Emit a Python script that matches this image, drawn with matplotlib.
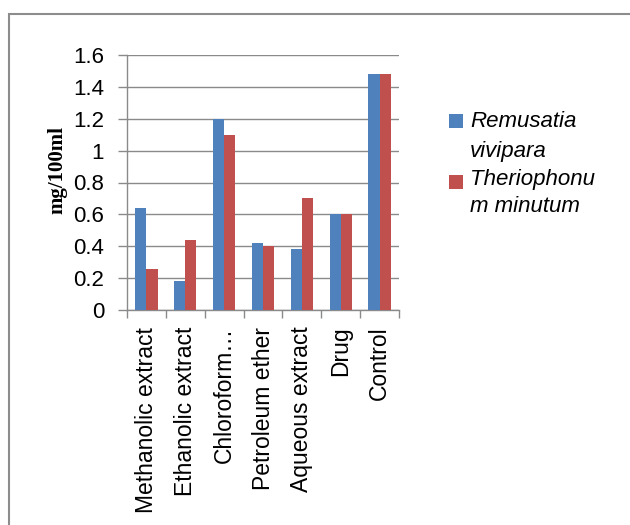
import matplotlib
matplotlib.use("Agg")
import matplotlib.pyplot as plt
import numpy as np
from matplotlib.patches import Rectangle

categories = ["Methanolic extract", "Ethanolic extract", "Chloroform\u2026",
              "Petroleum ether", "Aqueous extract", "Drug", "Control"]
remusatia = [0.64, 0.18, 1.20, 0.42, 0.38, 0.60, 1.48]
theriophonum = [0.26, 0.44, 1.10, 0.40, 0.70, 0.60, 1.48]
series_lines = [["Remusatia", "vivipara"], ["Theriophonu", "m minutum"]]
series_colors = ["#4F81BD", "#C0504D"]
yticks = [0, 0.2, 0.4, 0.6, 0.8, 1, 1.2, 1.4, 1.6]
ytick_labels = ["0", "0.2", "0.4", "0.6", "0.8", "1", "1.2", "1.4", "1.6"]

plt.rcParams["font.family"] = ["Liberation Sans", "DejaVu Sans"]

W, H = 630, 525
fig = plt.figure(figsize=(W / 100, H / 100), dpi=100)
fig.patch.set_facecolor("white")


def fx(px):
    return px / W


def fy(py):
    return 1 - py / H


# outer chart frame
fig.patches.append(Rectangle((fx(9), -0.1), 1.2, 0.1 + fy(14),
                             transform=fig.transFigure, fill=False,
                             edgecolor="#8c8c8c", linewidth=1.5))

ax_l, ax_r, ax_t, ax_b = 127, 399, 55, 310
ax = fig.add_axes([fx(ax_l), fy(ax_b), (ax_r - ax_l) / W, (ax_b - ax_t) / H])

x = np.arange(len(categories))
w = 0.285
ax.bar(x - w / 2, remusatia, w, color=series_colors[0], zorder=3)
ax.bar(x + w / 2, theriophonum, w, color=series_colors[1], zorder=3)

ax.set_xlim(-0.5, len(categories) - 0.5)
ax.set_ylim(0, 1.6)
ax.set_yticks(yticks)
ax.set_yticklabels(ytick_labels, fontsize=16)
ax.yaxis.grid(True, color="#8a8a8a", linewidth=1.0, zorder=0)
ax.tick_params(axis="y", length=6.5, width=1.0, color="#8a8a8a", pad=10)

ax.set_xticks(x)
ax.set_xticklabels(categories, rotation=90, fontsize=16.5, va="top", ha="center")
ax.tick_params(axis="x", which="major", length=0, pad=12)
ax.set_xticks(np.arange(-0.5, len(categories)), minor=True)
ax.tick_params(axis="x", which="minor", length=6, width=1.0, color="#8a8a8a")

for side in ["top", "right"]:
    ax.spines[side].set_visible(False)
for side in ["left", "bottom"]:
    ax.spines[side].set_color("#8a8a8a")
    ax.spines[side].set_linewidth(1.0)

ax.set_ylabel("mg/100ml", fontsize=15, fontweight="bold",
              family=["Liberation Serif", "DejaVu Serif"])
ax.yaxis.set_label_coords((67 - ax_l) / (ax_r - ax_l), (ax_b - 170) / (ax_b - ax_t))

# legend: colour key beside the first line of each wrapped series name
key_tops = [114, 175]
baselines = [[127, 157], [185, 212]]
for color, top, lines, bls in zip(series_colors, key_tops, series_lines, baselines):
    fig.patches.append(Rectangle((fx(449), fy(top + 14)), 14 / W, 14 / H,
                                 transform=fig.transFigure, facecolor=color,
                                 edgecolor="none"))
    for line, bl in zip(lines, bls):
        fig.text(fx(470), fy(bl), line, fontsize=16, style="italic",
                 ha="left", va="baseline")

fig.savefig("out.png", dpi=100, facecolor="white")
